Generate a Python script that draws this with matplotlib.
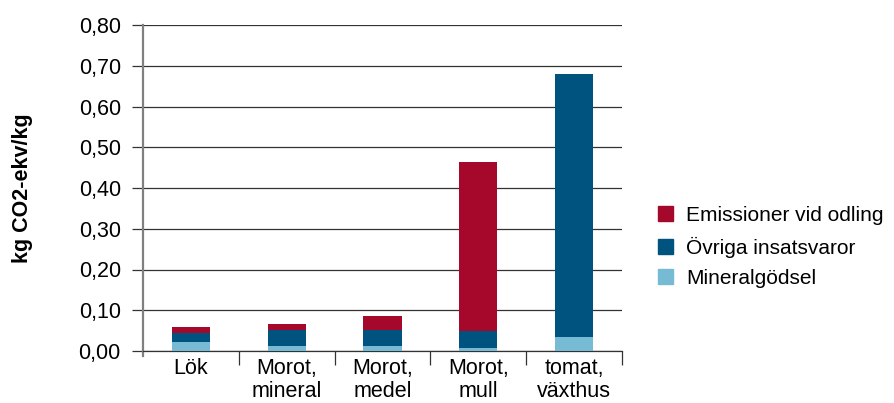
import matplotlib
matplotlib.use("Agg")
import matplotlib.pyplot as plt
from matplotlib.patches import Patch
from matplotlib.ticker import FixedLocator, FuncFormatter

plt.rcParams['font.family'] = ['Liberation Sans', 'DejaVu Sans']

categories = ["Lök", "Morot,\nmineral", "Morot,\nmedel", "Morot,\nmull", "tomat,\nväxthus"]
mineralgodsel = [0.023, 0.0115, 0.0115, 0.008, 0.034]
ovriga = [0.020, 0.041, 0.041, 0.041, 0.646]
emissioner = [0.015, 0.0145, 0.0345, 0.415, 0.0]
series_names = ["Emissioner vid odling", "Övriga insatsvaror", "Mineralgödsel"]
yticks = [0.0, 0.1, 0.2, 0.3, 0.4, 0.5, 0.6, 0.7, 0.8]

c_red = "#A6082C"
c_dark = "#00537E"
c_light = "#76BBD3"

FS = 15.5

fig = plt.figure(figsize=(8.95, 4.03), dpi=100)
ax = fig.add_axes([143/895, 1 - 351/403, (622-143)/895, (351-25)/403])

x = list(range(len(categories)))
w = 0.4
ax.bar(x, mineralgodsel, w, color=c_light, zorder=3)
b2 = [m for m in mineralgodsel]
ax.bar(x, ovriga, w, bottom=b2, color=c_dark, zorder=3)
b3 = [m + o for m, o in zip(mineralgodsel, ovriga)]
ax.bar(x, emissioner, w, bottom=b3, color=c_red, zorder=3)

ax.set_xlim(-0.5, len(categories) - 0.5)
ax.set_ylim(0, 0.8)
ax.set_yticks(yticks)
ax.yaxis.set_major_formatter(FuncFormatter(lambda v, p: f"{v:.2f}".replace(".", ",")))
ax.grid(axis='y', color='#333333', linewidth=0.9, zorder=0)
ax.tick_params(axis='y', length=8, width=0.9, color='#333333', labelsize=FS, pad=8)

ax.set_xticks(x)
ax.set_xticklabels(categories, fontsize=FS, linespacing=1.15)
ax.tick_params(axis='x', which='major', length=0, pad=5)
ax.xaxis.set_minor_locator(FixedLocator([i + 0.5 for i in range(len(categories))]))
ax.tick_params(axis='x', which='minor', length=10, width=0.9, color='#333333')

for s in ['top', 'right']:
    ax.spines[s].set_visible(False)
ax.spines['left'].set_color('#808080')
ax.spines['left'].set_linewidth(1.6)
ax.spines['bottom'].set_color('#333333')
ax.spines['bottom'].set_linewidth(0.9)
ax.spines['left'].set_bounds(-0.012, 0.8)

ax.set_ylabel("kg CO2-ekv/kg", fontsize=FS, fontweight='bold', labelpad=33)

handles = [Patch(color=c_red), Patch(color=c_dark), Patch(color=c_light)]
fig.legend(handles, series_names, loc='center left', bbox_to_anchor=(658/895, 1 - 247/403),
           frameon=False, fontsize=15, handlelength=0.7, handleheight=0.7,
           handletextpad=0.65, labelspacing=0.55, borderaxespad=0, borderpad=0)

fig.savefig("out.png", dpi=100)
